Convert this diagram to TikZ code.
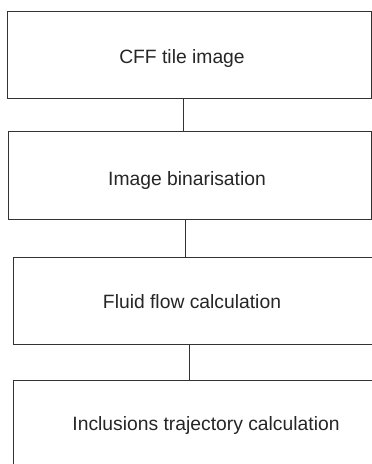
\documentclass[tikz,border=0pt]{standalone}
\usepackage{fontspec}
\setmainfont{Liberation Sans}
\begin{document}
\begin{tikzpicture}[x=1pt,y=-1pt,
  stepbox/.style={draw=black!80,line width=1pt,fill=white},
  lbl/.style={font=\fontsize{19.3}{21}\selectfont,text=black!85,inner sep=0pt,anchor=base},
  conn/.style={draw=black!80,line width=1pt}]
\useasboundingbox (0,0) rectangle (372,464);
\clip (0,0) rectangle (372,464);
\fill[white] (0,0) rectangle (372,464);
% boxes
\draw[stepbox] (7,11) rectangle (371,98);
\draw[stepbox] (8.5,131) rectangle (371,219);
\draw[stepbox] (13.5,257) rectangle (385,344);
\draw[stepbox] (13.5,380) rectangle (385,480);
% named anchors for connectors
\coordinate (c1a) at (183,98);
\coordinate (c1b) at (183,131);
\coordinate (c2a) at (185,219);
\coordinate (c2b) at (185,257);
\coordinate (c3a) at (189,344);
\coordinate (c3b) at (189,380);
\draw[conn] (c1a) -- (c1b);
\draw[conn] (c2a) -- (c2b);
\draw[conn] (c3a) -- (c3b);
% labels
\node[lbl] (t1) at (182,63.5) {CFF tile image};
\node[lbl] (t2) at (187,185.5) {Image binarisation};
\node[lbl] (t3) at (192,308) {Fluid flow calculation};
\node[lbl] (t4) at (206,430) {Inclusions trajectory calculation};
\end{tikzpicture}
\end{document}
